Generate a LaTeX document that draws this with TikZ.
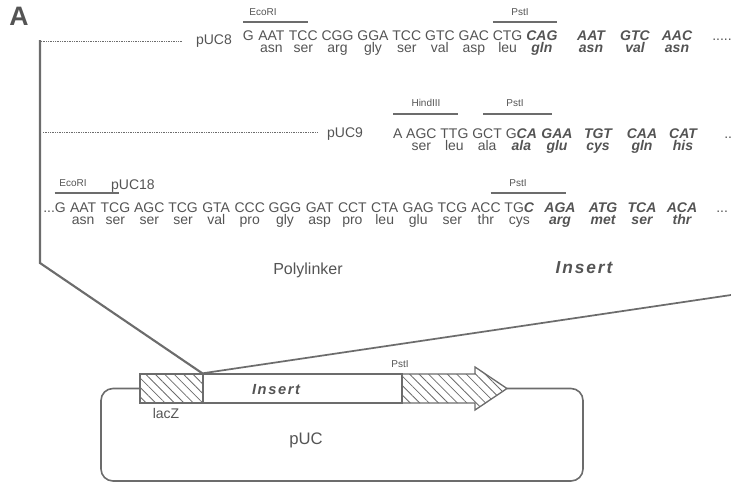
\documentclass[tikz,border=0pt]{standalone}
\usepackage{fontspec}
\setmainfont{Liberation Sans}
\usetikzlibrary{patterns.meta,positioning}

\definecolor{inkgray}{HTML}{545454}
\definecolor{linegray}{HTML}{6C6C6C}

\begin{document}
\begin{tikzpicture}[x=0.75pt, y=-0.75pt,
  every node/.style={inner sep=0pt, text=inkgray},
  codon/.style={anchor=base, font=\fontsize{10.5}{12}\selectfont},
  boldcodon/.style={codon, font=\fontsize{10.5}{12}\selectfont\bfseries\itshape},
  sitelabel/.style={anchor=base, font=\fontsize{7.5}{8}\selectfont},
  siteline/.style={draw=linegray, line width=1.1pt},
  pstline/.style={draw=linegray, line width=1.8pt},
  dotline/.style={draw=linegray, line width=0.7pt, dash pattern=on 0.5pt off 0.8pt},
  bracketline/.style={draw=linegray, line width=1.6pt},
  genebox/.style={draw=linegray, line width=1pt},
  hatch/.style={pattern={Lines[angle=-45, distance=5pt, line width=0.6pt]}, pattern color=linegray},
  bigtext/.style={font=\fontsize{12}{14}\selectfont},
  spaced/.style={font=\fontsize{#1}{14}\selectfont\bfseries\itshape\addfontfeature{LetterSpace=11}}
]
\useasboundingbox (0,0) rectangle (731,483);

\node (panel) [font=\fontsize{20}{22}\selectfont\bfseries] at (19,16) {A};

% pUC8
\node (puc8) [codon] at (214,44) {pUC8};
\foreach \x/\c/\a [count=\i] in {248.4/G/{}, 271.4/AAT/asn, 303.3/TCC/ser, 337.5/CGG/arg,
    373.0/GGA/gly, 406.8/TCC/ser, 439.9/GTC/val, 473.8/GAC/asp, 507.6/CTG/leu} {
  \node (r1c\i) [codon] at (\x,40) {\c};
  \node (r1a\i) [codon] at (\x,52) {\a};
}
\foreach \x/\c/\a [count=\i] in {541.9/CAG/gln, 591/AAT/asn, 635/GTC/val, 677/AAC/asn} {
  \node (r1b\i) [boldcodon] at (\x,40) {\c};
  \node (r1d\i) [boldcodon] at (\x,52) {\a};
}
\node (r1end) [codon, anchor=base west] at (712,40) {.....};
\node (eco1) [sitelabel] at (263,15) {EcoRI};
\node (pst1) [sitelabel] at (520,15) {PstI};
\draw[siteline] (243,22) -- (307.6,22);
\draw[pstline] (492.8,22) -- (557.4,22);

% pUC9
\node (puc9) [codon] at (345,137) {pUC9};
\foreach \x/\c/\a [count=\i] in {397.7/A/{}, 421.4/AGC/ser, 454.4/TTG/leu, 487.1/GCT/ala} {
  \node (r2c\i) [codon] at (\x,138) {\c};
  \node (r2a\i) [codon] at (\x,150) {\a};
}
\node (r2mix) [codon] at (521.3,138) {G\textbf{\textit{CA}}};
\node (r2mixa) [boldcodon] at (521.3,150) {ala};
\foreach \x/\c/\a [count=\i] in {557/GAA/glu, 598/TGT/cys, 642/CAA/gln, 683/CAT/his} {
  \node (r2b\i) [boldcodon] at (\x,138) {\c};
  \node (r2d\i) [boldcodon] at (\x,150) {\a};
}
\node (r2end) [codon, anchor=base west] at (724,138) {..};
\node (hind) [sitelabel] at (426,106) {HindIII};
\node (pst2) [sitelabel] at (515,106) {PstI};
\draw[siteline] (393,114) -- (457.5,114);
\draw[pstline] (483,114) -- (552,114);

% pUC18
\node (puc18) [codon] at (133,189) {pUC18};
\node (r3start) [codon, anchor=base west] at (43,212) {...G};
\foreach \x/\c/\a [count=\i] in {83.1/AAT/asn, 115.4/TCG/ser, 149.3/AGC/ser, 183.1/TCG/ser,
    216.2/GTA/val, 249.7/CCC/pro, 285/GGG/gly, 319.7/GAT/asp, 352.4/CCT/pro,
    384.7/CTA/leu, 418.2/GAG/glu, 452.4/TCG/ser, 485.9/ACC/thr} {
  \node (r3c\i) [codon] at (\x,212) {\c};
  \node (r3a\i) [codon] at (\x,224) {\a};
}
\node (r3mix) [codon] at (519.3,212) {TG\textbf{\textit{C}}};
\node (r3mixa) [codon] at (519.3,224) {cys};
\foreach \x/\c/\a [count=\i] in {560/AGA/arg, 603/ATG/met, 642/TCA/ser, 682/ACA/thr} {
  \node (r3b\i) [boldcodon] at (\x,212) {\c};
  \node (r3d\i) [boldcodon] at (\x,224) {\a};
}
\node (r3end) [codon, anchor=base west] at (716,212) {...};
\node (eco3) [sitelabel] at (73,186) {EcoRI};
\node (pst3) [sitelabel] at (518,186) {PstI};
\draw[siteline] (54.7,193) -- (119.3,193);
\draw[pstline] (490.5,193) -- (565.5,193);

\node (poly) [bigtext] at (308,270) {Polylinker};
\node (ins1) [spaced=13] at (584,268) {Insert};

% plasmid
\draw[genebox, line width=1.2pt, rounded corners=9pt]
  (140,388.5) -- (101,388.5) -- (101,481) -- (583,481) -- (583,388.5) -- (507,388.5);
\node (lacz) [genebox, hatch, minimum width=47.25pt, minimum height=21.75pt] at (171.5,388.5) {};
\node (ins) [genebox, fill=white, minimum width=149.25pt, minimum height=21.75pt] at (302.5,388.5) {};
\draw[genebox, hatch] (402,374) -- (475,374) -- (475,367) -- (507,388.5) -- (475,410)
  -- (475,403) -- (402,403) -- cycle;
\node (ins2) [spaced=11, anchor=base] at (276,394) {Insert};
\node (pst4) [sitelabel] at (400,367) {PstI};
\node (lacztext) [codon, font=\fontsize{10.5}{12}\selectfont] at (166,418) {lacZ};
\node (puc) [font=\fontsize{12.5}{14}\selectfont] at (306,440) {pUC};

% zoom lines
\coordinate (edge) at (731,295);
\draw[dotline] (41,41) -- (183,41);
\draw[dotline] (43,132) -- (318,132);
\draw[bracketline] (40,40) -- (40,263) -- (ins.north west);
\draw[bracketline, line width=1.3pt] (ins.north west) -- (edge);
\end{tikzpicture}
\end{document}
